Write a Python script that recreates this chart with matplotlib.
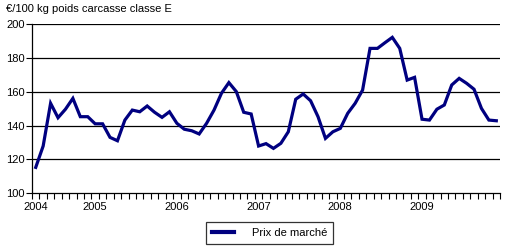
import matplotlib
matplotlib.use("Agg")
import matplotlib.pyplot as plt
from matplotlib.ticker import FixedLocator, MultipleLocator

plt.rcParams['font.family'] = ['Liberation Sans', 'DejaVu Sans']

values = [115.3, 127.9, 153.1, 144.6, 149.6, 156.0, 145.2, 145.2, 141.0, 141.0,
          133.0, 131.0, 143.2, 149.1, 148.1, 151.5, 147.8, 144.8, 148.1, 141.3,
          137.8, 136.9, 135.0, 141.3, 149.1, 159.0, 165.3, 160.0, 147.8, 146.8,
          127.9, 129.3, 126.5, 129.5, 136.3, 155.5, 158.6, 154.6, 145.2, 132.4,
          136.3, 138.3, 147.2, 153.1, 160.9, 185.5, 185.5, 188.8, 192.0, 185.5,
          166.8, 168.4, 143.7, 143.2, 149.6, 152.1, 163.9, 167.8, 164.9, 161.4,
          150.1, 143.2, 142.8]
year_labels = ['2004', '2005', '2006', '2007', '2008', '2009']
year_positions = [0, 8, 19, 30, 41, 52]
y_ticks = [100, 120, 140, 160, 180, 200]
series_name = 'Prix de marché'
y_title = '€/100 kg poids carcasse classe E'

fig = plt.figure(figsize=(5.14, 2.5), dpi=100)
ax = fig.add_axes([0.0623, 0.2268, 0.9105, 0.678])

x = list(range(len(values)))
ax.plot(x, values, color='#000080', lw=2.3, solid_joinstyle='miter', label=series_name, zorder=3)

ax.set_xlim(-0.5, len(values) - 0.5)
ax.set_ylim(100, 200)
ax.set_yticks(y_ticks)
for t in y_ticks[1:]:
    ax.axhline(t, color='black', lw=0.9, zorder=1)

ax.xaxis.set_major_locator(FixedLocator(year_positions))
ax.set_xticklabels(year_labels)
ax.xaxis.set_minor_locator(FixedLocator([i - 0.5 for i in range(len(values) + 1)]))
ax.tick_params(axis='x', which='major', length=0, pad=6, labelsize=8)
ax.tick_params(axis='x', which='minor', length=4, width=0.8, direction='out')
ax.tick_params(axis='y', which='major', length=4, width=0.8, direction='out', labelsize=8, pad=1)

for s in ['top', 'right']:
    ax.spines[s].set_visible(False)
for s in ['left', 'bottom']:
    ax.spines[s].set_linewidth(0.9)

fig.text(0.012, 0.965, y_title, fontsize=8, va='center', ha='left')

leg = fig.legend(loc='center', bbox_to_anchor=(0.524, 0.068), frameon=True, fancybox=False,
                 edgecolor='black', fontsize=8, handlelength=2.0, borderpad=0.5,
                 handletextpad=1.6, borderaxespad=0)
leg.get_frame().set_linewidth(0.9)
leg.get_lines()[0].set_linewidth(3)

fig.savefig('out.png', dpi=100)
